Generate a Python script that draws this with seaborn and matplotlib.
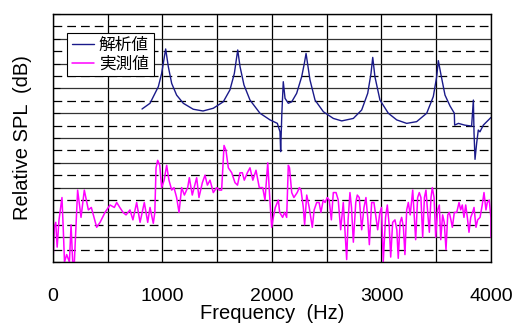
import matplotlib
matplotlib.use("Agg")
import matplotlib.pyplot as plt
import seaborn as sns
import pandas as pd
from matplotlib.lines import Line2D

# 解析値 (calculated) - frequency [Hz] / relative level
calc_f = [813, 886, 962, 992, 1029, 1053, 1084, 1129, 1190, 1281, 1370, 1464, 1555, 1616,
          1656, 1687, 1708, 1744, 1799, 1890, 1982, 2049, 2073, 2079, 2090, 2103, 2119,
          2149, 2180, 2225, 2271, 2295, 2311, 2347, 2393, 2469, 2560, 2637, 2743, 2819,
          2874, 2904, 2920, 2940, 2986, 3062, 3139, 3230, 3321, 3413, 3473, 3504, 3519,
          3541, 3580, 3626, 3665, 3668, 3702, 3760, 3823, 3839, 3845, 3854, 3869, 3884,
          3899, 3930, 4000]
calc_v = [61.7, 64.0, 70.7, 76.0, 85.9, 78.8, 72.0, 67.3, 64.0, 61.6, 60.9, 62.0, 64.6, 69.4,
          76.0, 85.5, 78.8, 71.4, 65.3, 60.0, 57.3, 55.9, 52.5, 44.5, 60.0, 72.7, 66.0,
          64.0, 64.6, 68.0, 74.7, 80.0, 84.1, 73.4, 65.3, 60.6, 57.9, 56.9, 57.9, 61.3,
          68.0, 76.0, 82.5, 74.7, 65.3, 60.0, 57.3, 55.9, 56.6, 60.0, 66.7, 74.7, 81.2,
          76.0, 67.3, 62.9, 60.0, 55.2, 55.9, 55.2, 54.8, 65.3, 52.0, 41.4, 47.9, 53.2,
          52.5, 55.2, 58.3]

# 実測値 (measured)
meas_f = [0, 12, 25, 38, 55, 82, 95, 105, 125, 150, 165, 180, 195, 225, 256, 286, 323, 350,
          399, 430, 475, 521, 560, 582, 610, 640, 667, 703, 730, 764, 795, 834, 865, 886,
          916, 930, 941, 956, 975, 992, 1015, 1038, 1059, 1084, 1105, 1129, 1151, 1175,
          1200, 1230, 1245, 1272, 1312, 1333, 1364, 1388, 1410, 1434, 1464, 1495, 1519,
          1540, 1562, 1580, 1601, 1632, 1662, 1685, 1708, 1729, 1747, 1775, 1799, 1825,
          1854, 1884, 1915, 1936, 1961, 1970, 1982, 1997, 2012, 2030, 2049, 2058, 2070,
          2097, 2115, 2134, 2149, 2160, 2180, 2200, 2215, 2230, 2250, 2265, 2286, 2298,
          2317, 2340, 2368, 2385, 2408, 2430, 2447, 2468, 2485, 2505, 2522, 2542, 2560,
          2585, 2605, 2627, 2651, 2682, 2695, 2712, 2726, 2743, 2765, 2779, 2797, 2819,
          2840, 2858, 2874, 2889, 2910, 2931, 2950, 2965, 2985, 3000, 3016, 3037, 3053,
          3070, 3084, 3102, 3123, 3140, 3153, 3170, 3184, 3200, 3214, 3230, 3245, 3262,
          3285, 3298, 3312, 3330, 3345, 3360, 3376, 3392, 3406, 3420, 3437, 3452, 3464,
          3480, 3495, 3512, 3528, 3541, 3558, 3573, 3589, 3605, 3619, 3634, 3647, 3665,
          3687, 3708, 3723, 3738, 3753, 3769, 3784, 3799, 3815, 3832, 3845, 3863, 3878,
          3900, 3920, 3936, 3954, 3966, 3984, 3999, 4000]
meas_v = [0, 14, 16, 6, 17, 26, 12, 0, 3, 0, 15, 0, 0, 29, 18, 29, 21, 22,
          14, 16, 20, 23, 22, 24, 22, 20, 19, 21, 17, 24, 16, 24, 16, 22,
          15.6, 20, 38, 41, 39, 30, 33, 39, 33, 29, 30, 26, 20, 30,
          27, 30, 34, 27, 34, 26, 32, 35, 31, 33, 28, 30, 29,
          29, 47, 45, 38, 36, 32, 31, 36, 36, 33, 36, 38, 33,
          37, 30, 30, 25, 40, 33, 24, 14, 18, 22, 24, 25, 20,
          18, 20, 18, 39, 38, 28, 26, 27, 28, 30, 29, 22, 15,
          27, 22, 14, 21, 24, 24, 20, 25, 24, 26, 25, 17, 28,
          28, 25, 13, 24, 1, 17, 28, 22, 8, 24, 27, 26, 13,
          22, 26, 18, 7, 24, 24, 18, 13, 20, 22, 0, 18, 23,
          15, 2, 16, 17, 13, 1.5, 16, 18, 14, 3, 21, 24, 19,
          29, 19, 9, 26, 28, 26, 10, 26, 29, 21, 12, 26, 30,
          26, 10, 21, 23, 9, 19, 16, 5, 19, 20, 17, 14, 20,
          20, 24, 21, 23, 18, 23, 18, 12, 18, 20, 22, 14, 17,
          18, 23, 28, 21, 24, 25, 18, 10]

calc = pd.DataFrame({"f": calc_f, "v": calc_v})
meas = pd.DataFrame({"f": meas_f, "v": meas_v})

sns.set_style("white")
plt.rcParams["font.family"] = ["Liberation Sans", "Noto Sans CJK JP"]
plt.rcParams["text.color"] = "black"
plt.rcParams["axes.labelcolor"] = "black"
plt.rcParams["xtick.color"] = "black"
plt.rcParams["ytick.color"] = "black"

navy = "#1a1a8a"
mag = "#ff00ff"

fig = plt.figure(figsize=(5.15, 3.25), dpi=100)
ax = fig.add_axes([0.1029, 0.1938, 0.8505, 0.7631])

sns.lineplot(data=meas, x="f", y="v", ax=ax, color=mag, lw=1.1,
             sort=False, estimator=None)
sns.lineplot(data=calc, x="f", y="v", ax=ax, color=navy, lw=1.0,
             sort=False, estimator=None)

ax.set_xlim(0, 4000)
ax.set_ylim(0, 100)
ax.set_xticks([0, 1000, 2000, 3000, 4000])
ax.set_xticks(range(500, 4000, 1000), minor=True)
ax.set_yticks(range(0, 101, 10))
ax.set_yticks(range(5, 100, 10), minor=True)
ax.set_axisbelow(True)
ax.xaxis.grid(True, which="both", color="black", lw=0.9)
ax.yaxis.grid(True, which="major", color="#333333", lw=0.9)
ax.yaxis.grid(True, which="minor", color="black", lw=0.9, ls=(0, (7, 4)))

ax.tick_params(axis="x", which="both", length=0, pad=19, labelsize=14)
ax.tick_params(axis="y", which="both", direction="in", length=5, color="black",
               left=True, labelleft=False)
for s in ax.spines.values():
    s.set_color("black")
    s.set_linewidth(1.0)

ax.set_xlabel("Frequency  (Hz)", fontsize=14.5, labelpad=-1)
ax.set_ylabel("Relative SPL  (dB)", fontsize=14.5, labelpad=15)

handles = [Line2D([], [], color=navy, lw=1.0), Line2D([], [], color=mag, lw=1.1)]
leg = ax.legend(handles, ["解析値", "実測値"], loc="upper left",
                bbox_to_anchor=(0.032, 0.925), fontsize=12, frameon=True,
                fancybox=False, framealpha=1, edgecolor="black",
                handlelength=1.3, handletextpad=0.3, borderpad=0.3,
                labelspacing=0.2, borderaxespad=0)
leg.get_frame().set_linewidth(0.8)

fig.savefig("out.png", dpi=100)
